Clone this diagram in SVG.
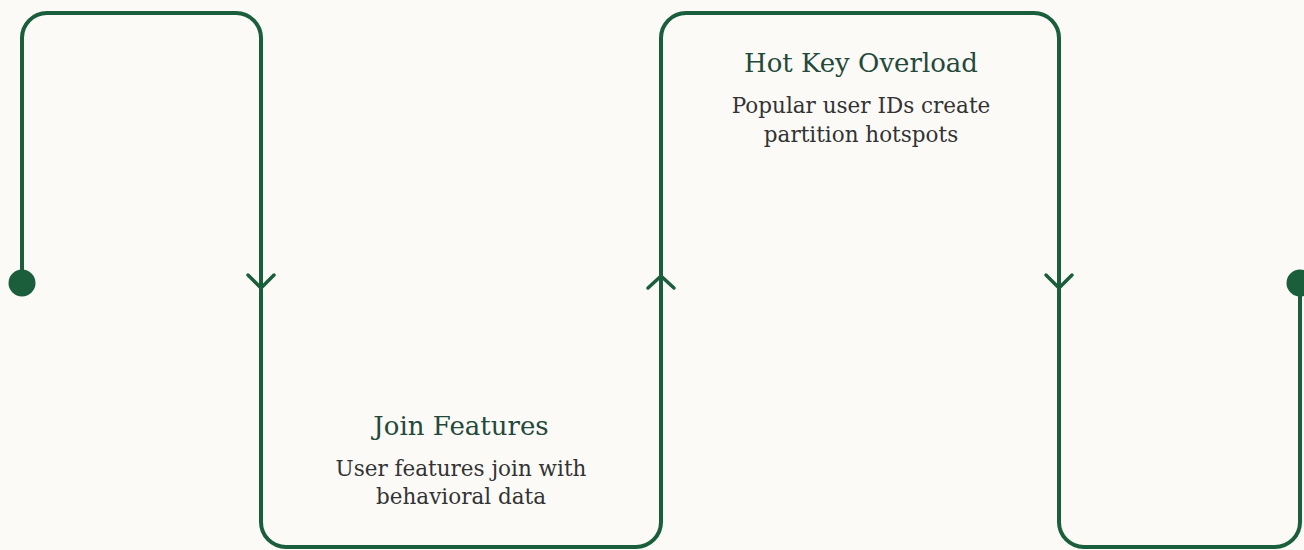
<svg xmlns="http://www.w3.org/2000/svg" width="1304" height="550" viewBox="0 0 1304 550">
  <style>
    .wire { fill: none; stroke: #1b5e3b; stroke-width: 4; stroke-linecap: round; stroke-linejoin: round; }
    .chev { fill: none; stroke: #1b5e3b; stroke-width: 3.5; stroke-linecap: round; stroke-linejoin: round; }
    .dot { fill: #1b5e3b; }
    .title { font-family: "DejaVu Serif", "Liberation Serif", serif; font-size: 26px; fill: #24493a; text-anchor: middle; }
    .desc { font-family: "DejaVu Serif", "Liberation Serif", serif; font-size: 21.5px; fill: #333333; text-anchor: middle; }
  </style>
  <rect width="1304" height="550" fill="#fbfaf7"/>
  <g id="connectors">
    <path class="wire" d="M22,283 V38 A25,25 0 0 1 47,13 H236 A25,25 0 0 1 261,38 V522 A25,25 0 0 0 286,547 H636 A25,25 0 0 0 661,522 V38 A25,25 0 0 1 686,13 H1034 A25,25 0 0 1 1059,38 V522 A25,25 0 0 0 1084,547 H1275 A25,25 0 0 0 1300,522 V283"/>
    <path class="chev" d="M248,275 L261,288 L274,275"/>
    <path class="chev" d="M648,288 L661,276 L674,288"/>
    <path class="chev" d="M1046,275 L1059,288 L1072,275"/>
    <circle class="dot" cx="22" cy="283" r="13.5"/>
    <circle class="dot" cx="1300" cy="283" r="13.5"/>
  </g>
  <g id="node-join-features">
    <text class="title" x="461" y="435">Join Features</text>
    <text class="desc" x="461" y="476">User features join with</text>
    <text class="desc" x="461" y="504">behavioral data</text>
  </g>
  <g id="node-hot-key-overload">
    <text class="title" x="861" y="72">Hot Key Overload</text>
    <text class="desc" x="861" y="113">Popular user IDs create</text>
    <text class="desc" x="861" y="142">partition hotspots</text>
  </g>
</svg>
